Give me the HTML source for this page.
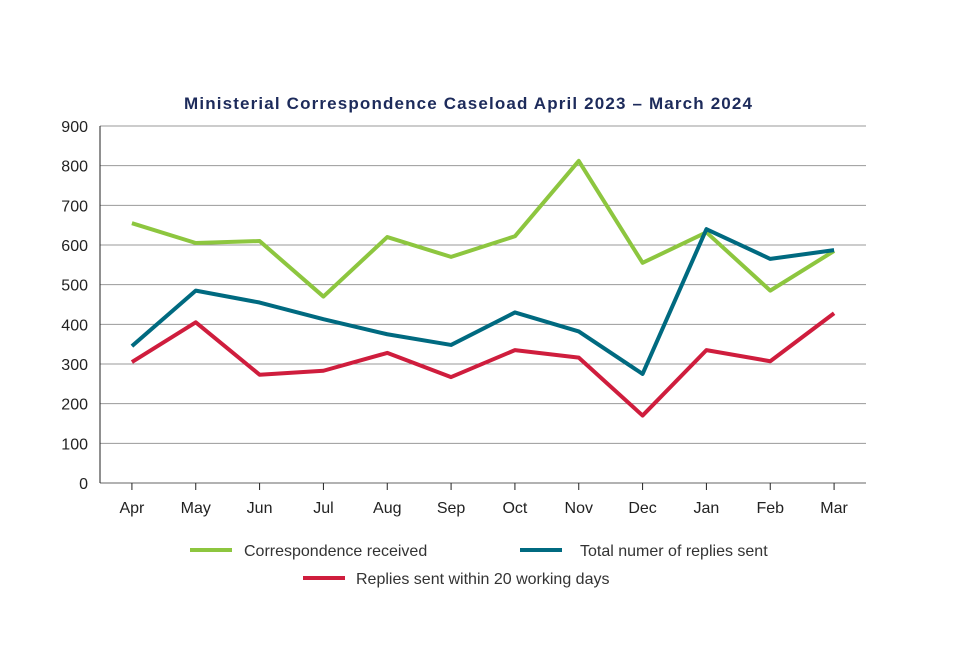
<!DOCTYPE html>
<html><head><meta charset="utf-8"><style>
body{margin:0;background:#fff;}
svg text{font-family:"Liberation Sans",sans-serif;}
</style></head><body>
<svg id="chart" width="960" height="640" viewBox="0 0 960 640" xmlns="http://www.w3.org/2000/svg">
<text x="468" y="109" text-anchor="middle" font-size="17" font-weight="bold" fill="#1d2b5b" textLength="568">Ministerial Correspondence Caseload April 2023 – March 2024</text>
<g id="grid"></g><g id="axes"></g><g id="series"></g>
<g>
<line x1="190" y1="550" x2="232" y2="550" stroke="#8dc63f" stroke-width="4"/>
<text x="244" y="556" font-size="16" fill="#333">Correspondence received</text>
<line x1="520" y1="550" x2="562" y2="550" stroke="#006a80" stroke-width="4"/>
<text x="580" y="556" font-size="16" fill="#333">Total numer of replies sent</text>
<line x1="303" y1="578" x2="345" y2="578" stroke="#cf1d3d" stroke-width="4"/>
<text x="356" y="584" font-size="16" fill="#333">Replies sent within 20 working days</text>
</g>
</svg>
<script>
const categories=["Apr","May","Jun","Jul","Aug","Sep","Oct","Nov","Dec","Jan","Feb","Mar"];
const received=[655,605,610,470,620,570,622,812,555,632,485,585];
const totalReplies=[345,485,455,413,375,348,430,382,275,640,565,587];
const within20=[305,405,273,283,328,267,335,316,170,335,307,428];
const yTicks=[0,100,200,300,400,500,600,700,800,900];
const NS="http://www.w3.org/2000/svg";
const L=100,R=866,T=126,B=483,YMAX=900;
const bw=(R-L)/categories.length;
const x=i=>L+bw*(i+0.5);
const y=v=>B-(v/YMAX)*(B-T);
function mk(tag,attrs,parent){const e=document.createElementNS(NS,tag);for(const k in attrs)e.setAttribute(k,attrs[k]);parent.appendChild(e);return e;}
const grid=document.getElementById('grid'),axes=document.getElementById('axes'),ser=document.getElementById('series');
yTicks.forEach(v=>{
 const ln=mk('line',{x1:L,x2:R,y1:y(v),y2:y(v),stroke:v===0?'#666':'#999','stroke-width':1},grid);
 
 
 const t=mk('text',{x:88,y:y(v)+6,'text-anchor':'end','font-size':16,fill:'#222'},axes);
 t.textContent=v;
 
 
});
const yAxis=mk('line',{x1:L,x2:L,y1:T,y2:B,stroke:'#222','stroke-width':1},axes);


categories.forEach((c,i)=>{
 const tk=mk('line',{x1:x(i),x2:x(i),y1:B,y2:B+7,stroke:'#222'},axes);
 
 
 const t=mk('text',{x:x(i),y:513,'text-anchor':'middle','font-size':16,fill:'#222'},axes);
 t.textContent=c;
 
 
});
[[received,'#8dc63f','line-received'],[totalReplies,'#006a80','line-total-replies'],[within20,'#cf1d3d','line-within-20-days']].forEach(([d,col,name])=>{
 const p=mk('polyline',{points:d.map((v,i)=>x(i)+','+y(v)).join(' '),fill:'none',stroke:col,'stroke-width':4,'stroke-linejoin':'round'},ser);
 
 
});
</script>
</body></html>
